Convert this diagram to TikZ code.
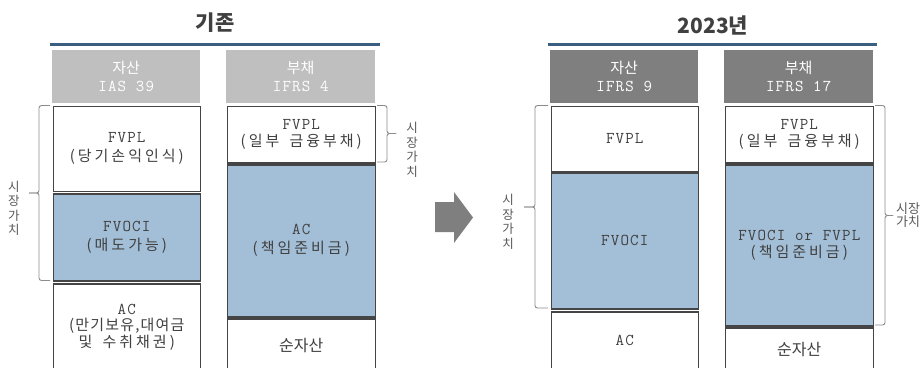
\documentclass[tikz,border=0pt]{standalone}
\usepackage{fontspec}
\setmainfont{Noto Sans CJK KR}
\newfontfamily\mono[LetterSpace=7]{Latin Modern Mono}
\newfontfamily\kr{Noto Sans CJK KR}
\newfontfamily\krs[LetterSpace=20,WordSpace=1.6]{Noto Sans CJK KR}
\newfontfamily\krt[LetterSpace=8]{Noto Sans CJK KR}
\definecolor{boxline}{HTML}{454545}
\definecolor{bluefill}{HTML}{A3BFD7}
\definecolor{txt}{HTML}{404040}
\definecolor{hdrlight}{HTML}{BFBFBF}
\definecolor{hdrdark}{HTML}{7F7F7F}
\definecolor{rule}{HTML}{3A5F80}
\definecolor{bracegray}{HTML}{8C8C8C}
\definecolor{lbl}{HTML}{595959}
\tikzset{
  cell/.style={draw=boxline, line width=1.5pt, minimum width=147pt, inner sep=0pt,
    align=center, text=txt, anchor=north west, font=\fontsize{15}{20}\selectfont},
  bluecell/.style={cell, fill=bluefill},
  hdr/.style={minimum width=148pt, minimum height=53pt, inner sep=0pt, align=center,
    anchor=north west, text=white, font=\fontsize{15}{19}\selectfont},
  hdrL/.style={hdr, fill=hdrlight},
  hdrD/.style={hdr, fill=hdrdark},
  brace/.style={draw=bracegray, line width=0.9pt, rounded corners=2.5pt},
  vlabel/.style={text=lbl, align=center, inner sep=0pt, font=\kr\fontsize{12.5}{14.5}\selectfont},
  title/.style={text=txt, inner sep=0pt, font=\kr\bfseries\fontsize{21}{24}\selectfont},
  toprule/.style={draw=rule, line width=3pt},
  mfont/.style={font=\mono\fontsize{16.5}{20}\selectfont},
}
\newcommand{\mt}[1]{{\mono\fontsize{16.5}{20}\selectfont #1}}
\begin{document}
\begin{tikzpicture}[x=1pt,y=-1pt]
\useasboundingbox (0,0) rectangle (923,367);
\clip (0,0) rectangle (923,367);
\fill[white] (0,0) rectangle (923,367);

% ---------- left panel (기존) ----------
\node[title] (t1) at (215,23) {기존};
\coordinate (r1a) at (50,44);
\coordinate (r1b) at (380,44);
\draw[toprule] (r1a) -- (r1b);

\node[hdrL] (h1) at (52,50) {\kr 자산\\[-1pt]\mt{IAS 39}};
\node[hdrL, minimum width=149pt] (h2) at (226,50) {\kr 부채\\[-1pt]\mt{IFRS 4}};

\node[cell, minimum height=85pt] (a1) at (52.5,105.5) {\mt{FVPL}\\[-1pt]{\krs (당기손익인식)}};
\node[bluecell, minimum height=87pt] (a2) at (52.5,193) {\mt{FVOCI}\\[-1pt]{\krs (매도가능)}};
\node[cell, minimum height=88pt] (a3) at (52.5,283) {\mt{AC}\\[-4pt]{\krt (만기보유,대여금}\\[-3pt]{\krs 및 수취채권)}};

\node[cell, minimum height=56.5pt, minimum width=148pt] (l1) at (226.5,105.5) {\mt{FVPL}\\[-3pt]{\krs (일부 금융부채)}};
\node[bluecell, minimum height=152pt, minimum width=148pt] (l2) at (226.5,164) {\mt{AC}\\[-1pt]{\krs (책임준비금)}};
\node[cell, minimum height=53pt, minimum width=148pt] (l3) at (226.5,318) {\kr\fontsize{16}{18}\selectfont 순자산};

% braces left panel
\coordinate (b1t) at (50,105.5);
\coordinate (b1m) at (39,193);
\coordinate (b1tip) at (29,193);
\coordinate (b1b) at (50,280.5);
\draw[brace] (b1t) -| (b1m) -- (b1tip);
\draw[brace] (b1tip) -- (b1m) |- (b1b);
\node[vlabel] (v1) at (14,208.5) {시\\장\\가\\치};

\coordinate (b2t) at (377,105.5);
\coordinate (b2m) at (387,133.5);
\coordinate (b2tip) at (396,133.5);
\coordinate (b2b) at (377,162);
\draw[brace] (b2t) -| (b2m) -- (b2tip);
\draw[brace] (b2tip) -- (b2m) |- (b2b);
\node[vlabel] (v2) at (412,150) {시\\장\\가\\치};

% ---------- arrow ----------
\fill[hdrdark] (435,202) -- (454,202) -- (454,192) -- (473,217.5) -- (454,243) -- (454,232) -- (435,232) -- cycle;

% ---------- right panel (2023년) ----------
\node[title] (t2) at (713,25) {2023년};
\coordinate (r2a) at (548,44);
\coordinate (r2b) at (877,44);
\draw[toprule] (r2a) -- (r2b);

\node[hdrD] (h3) at (550,50) {\kr 자산\\[-1pt]\mt{IFRS 9}};
\node[hdrD, minimum width=149pt] (h4) at (724,50) {\kr 부채\\[-1pt]\mt{IFRS 17}};

\node[cell, minimum height=65pt] (c1) at (550.5,105.5) {\mt{FVPL}};
\node[bluecell, minimum height=136pt] (c2) at (550.5,172) {\mt{FVOCI}};
\node[cell, minimum height=58pt] (c3) at (550.5,311) {\mt{AC}};

\node[cell, minimum height=56.5pt, minimum width=148pt] (d1) at (724.5,105.5) {\mt{FVPL}\\[-3pt]{\krs (일부 금융부채)}};
\node[bluecell, minimum height=161pt, minimum width=148pt] (d2) at (724.5,164) {\mt{FVOCI or FVPL}\\[-3pt]{\krs (책임준비금)}};
\node[cell, minimum height=43pt, minimum width=148pt] (d3) at (724.5,327) {\kr\fontsize{16}{18}\selectfont 순자산};

\coordinate (b3t) at (548,105.5);
\coordinate (b3m) at (535,207);
\coordinate (b3tip) at (524,207);
\coordinate (b3b) at (548,308);
\draw[brace] (b3t) -| (b3m) -- (b3tip);
\draw[brace] (b3tip) -- (b3m) |- (b3b);
\node[vlabel] (v3) at (508,222) {시\\장\\가\\치};

\coordinate (b4t) at (875,105.5);
\coordinate (b4m) at (885,215.5);
\coordinate (b4tip) at (893,215.5);
\coordinate (b4b) at (875,325);
\draw[brace] (b4t) -| (b4m) -- (b4tip);
\draw[brace] (b4tip) -- (b4m) |- (b4b);
\node[vlabel, anchor=west, font=\kr\fontsize{13}{13}\selectfont] (v4) at (896,215) {시장\\가치};
\end{tikzpicture}
\end{document}
